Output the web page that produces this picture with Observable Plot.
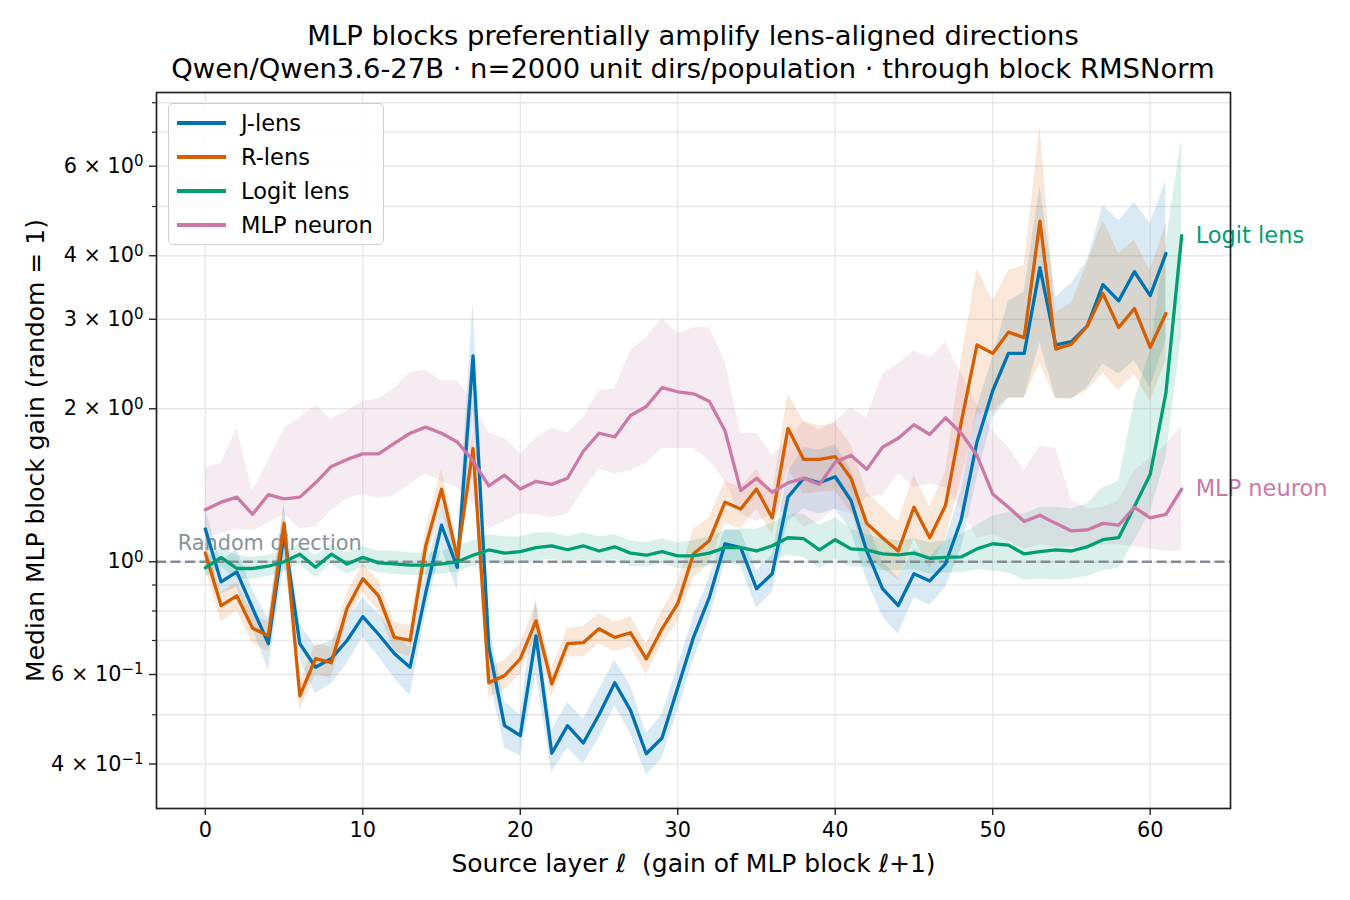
<!DOCTYPE html>
<html>
<head>
<meta charset="utf-8">
<script src="https://cdn.jsdelivr.net/npm/d3@7"></script>
<script src="https://cdn.jsdelivr.net/npm/@observablehq/plot@0.6"></script>
<style>
  html, body { margin: 0; padding: 0; background: #fff; }
  #wrap { position: relative; width: 1350px; height: 900px; font-family: "DejaVu Sans", sans-serif; color: #000; }
  #title { position: absolute; left: 156px; width: 1074px; top: 19px; text-align: center; font-size: 27.4px; line-height: 33px; white-space: nowrap; }
  #legend { position: absolute; left: 168px; top: 103px; width: 216px; height: 142px; border: 1.5px solid #cfcfcf; border-radius: 5px; background: rgba(255,255,255,0.8); box-sizing: border-box; }
  .li { position: absolute; left: 0; height: 34px; display: flex; align-items: center; font-size: 22.5px; }
  .li .sw { position: absolute; left: 8px; width: 49px; height: 3.3px; }
  .li .lab { position: absolute; left: 72px; white-space: nowrap; }
  svg { position: absolute; left: 0; top: 0; }
</style>
</head>
<body>
<div id="wrap">
  <div id="chart"></div>
  <div id="title">MLP blocks preferentially amplify lens-aligned directions<br>Qwen/Qwen3.6-27B · n=2000 unit dirs/population · through block RMSNorm</div>
  <div id="legend"></div>
</div>
<script>
// ---- data (median gain per source layer, with band lo/hi) ----
const seriesNames = ["J-lens", "R-lens", "Logit lens", "MLP neuron"];
const seriesColors = ["#0072B2", "#D55E00", "#009E73", "#CC79A7"];

const jLens = [1.16,0.913,0.955,0.81,0.69,1.135,0.69,0.62,0.645,0.70, 0.78,0.72,0.66,0.62,0.87,1.18,0.975,2.54,0.68,0.476, 0.455,0.715,0.42,0.476,0.44,0.50,0.578,0.51,0.419,0.45, 0.565,0.71,0.85,1.085,1.066,0.885,0.947,1.34,1.46,1.43, 1.47,1.32,1.05,0.885,0.82,0.947,0.917,0.99,1.21,1.72, 2.17,2.57,2.57,3.79,2.67,2.71,2.91,3.51,3.26,3.72, 3.34,4.04];
const jLensLo = [1.0,0.865,0.89,0.74,0.61,0.99,0.64,0.55,0.575,0.63, 0.71,0.65,0.59,0.545,0.79,1.06,0.88,2.0,0.60,0.43, 0.415,0.60,0.385,0.43,0.40,0.45,0.52,0.46,0.38,0.41, 0.51,0.64,0.77,1.0,0.98,0.81,0.87,1.20,1.27,1.24, 1.27,1.15,0.92,0.78,0.72,0.85,0.82,0.89,1.06,1.46, 1.92,2.10,2.10,2.70,2.10,2.09,2.20,2.45,2.34,2.49, 2.20,2.72];
const jLensHi = [1.27,1.0,1.06,0.88,0.77,1.30,0.755,0.68,0.70,0.77, 0.85,0.79,0.72,0.68,0.95,1.29,1.07,3.25,0.76,0.53, 0.50,0.85,0.465,0.53,0.49,0.56,0.64,0.57,0.46,0.50, 0.62,0.78,0.93,1.16,1.15,0.96,1.03,1.50,1.68,1.66, 1.70,1.52,1.20,1.0,0.93,1.06,1.02,1.10,1.38,2.01, 2.52,3.26,3.39,5.5,3.31,3.53,3.91,5.02,4.69,5.09, 4.63,5.62];

const rLens = [1.04,0.82,0.857,0.74,0.715,1.19,0.545,0.645,0.633,0.81, 0.926,0.857,0.71,0.70,1.075,1.39,1.02,1.67,0.578,0.597, 0.644,0.765,0.575,0.69,0.693,0.738,0.71,0.725,0.644,0.738, 0.827,1.037,1.10,1.31,1.27,1.39,1.22,1.83,1.59,1.59, 1.61,1.46,1.19,1.115,1.05,1.28,1.115,1.29,1.88,2.67, 2.57,2.83,2.76,4.68,2.62,2.68,2.91,3.37,2.89,3.15, 2.64,3.08];
const rLensLo = [0.98,0.76,0.80,0.69,0.665,1.10,0.51,0.60,0.59,0.76, 0.87,0.80,0.665,0.65,1.0,1.28,0.96,1.55,0.54,0.56, 0.60,0.71,0.54,0.65,0.65,0.69,0.665,0.68,0.60,0.69, 0.76,0.93,0.99,1.19,1.16,1.27,1.13,1.53,1.36,1.37, 1.38,1.25,1.03,0.97,0.92,1.11,0.97,1.11,1.45,1.95, 1.98,2.10,2.10,2.45,2.09,2.09,2.17,2.35,2.17,2.34, 2.07,2.49];
const rLensHi = [1.09,0.87,0.91,0.79,0.76,1.30,0.58,0.69,0.68,0.87, 0.99,0.92,0.76,0.75,1.16,1.52,1.09,1.80,0.62,0.64, 0.69,0.83,0.615,0.74,0.745,0.79,0.76,0.78,0.69,0.80, 0.91,1.16,1.22,1.44,1.40,1.52,1.35,2.14,1.89,1.85, 1.87,1.70,1.37,1.28,1.20,1.48,1.28,1.50,2.50,3.77, 3.26,3.74,3.83,7.2,3.09,3.23,3.86,4.69,4.04,4.29, 3.74,4.63];

const logit = [0.973,1.02,0.97,0.97,0.98,1.0,1.035,0.975,1.035,0.99, 1.02,0.995,0.99,0.985,0.985,0.99,1.0,1.03,1.055,1.04, 1.047,1.066,1.075,1.056,1.075,1.05,1.07,1.04,1.03,1.047, 1.027,1.027,1.04,1.066,1.066,1.05,1.075,1.115,1.11,1.055, 1.105,1.06,1.055,1.036,1.032,1.04,1.016,1.02,1.022,1.06, 1.085,1.078,1.036,1.047,1.055,1.05,1.07,1.105,1.115,1.285, 1.485,2.15,4.38];
const logitLo = [0.93,0.975,0.925,0.925,0.935,0.955,0.99,0.93,0.99,0.945, 0.975,0.95,0.945,0.94,0.94,0.945,0.955,0.98,1.0,0.985, 0.99,1.005,1.01,0.995,1.01,0.99,1.01,0.98,0.975,0.99, 0.97,0.97,0.98,1.0,1.0,0.985,1.005,1.03,1.02,0.97, 1.01,0.975,0.975,0.96,0.96,0.965,0.945,0.95,0.95,0.965, 0.96,0.95,0.92,0.925,0.92,0.925,0.935,0.96,0.97,1.10, 1.25,1.60,2.80];
const logitHi = [1.02,1.06,1.03,1.02,1.03,1.05,1.08,1.03,1.08,1.04, 1.07,1.05,1.05,1.04,1.04,1.05,1.07,1.10,1.13,1.12, 1.12,1.14,1.14,1.12,1.14,1.12,1.13,1.10,1.09,1.11, 1.09,1.10,1.12,1.15,1.16,1.16,1.19,1.24,1.24,1.18, 1.22,1.16,1.13,1.11,1.10,1.11,1.09,1.10,1.13,1.18, 1.23,1.25,1.24,1.28,1.28,1.27,1.30,1.40,1.44,2.07, 2.60,4.23,6.82];

const mlp = [1.266,1.31,1.34,1.24,1.355,1.33,1.34,1.43,1.54,1.59, 1.63,1.63,1.71,1.79,1.84,1.79,1.72,1.58,1.41,1.48, 1.39,1.44,1.42,1.46,1.65,1.79,1.76,1.94,2.02,2.20, 2.16,2.14,2.07,1.81,1.38,1.46,1.37,1.43,1.46,1.42, 1.57,1.62,1.52,1.68,1.75,1.86,1.78,1.92,1.79,1.62, 1.36,1.28,1.20,1.235,1.19,1.15,1.155,1.19,1.18,1.28, 1.22,1.24,1.39];
const mlpLo = [1.115,1.135,1.16,1.15,1.19,1.24,1.16,1.17,1.26,1.33, 1.36,1.33,1.35,1.42,1.49,1.44,1.40,1.30,1.16,1.20, 1.24,1.24,1.22,1.24,1.38,1.52,1.49,1.51,1.56,1.67, 1.67,1.67,1.58,1.44,1.24,1.20,1.24,1.26,1.17,1.20, 1.27,1.24,1.34,1.35,1.49,1.40,1.42,1.40,1.28,1.115, 1.13,1.10,1.06,1.08,1.07,1.07,1.06,1.08,1.08,1.07, 1.06,1.05,1.05];
const mlpHi = [1.53,1.56,1.83,1.38,1.58,1.83,1.92,2.03,1.91,1.98, 2.07,2.09,2.19,2.36,2.38,2.27,2.27,2.07,1.79,1.75, 1.63,1.75,1.83,1.79,1.92,2.17,2.19,2.60,2.76,3.01, 2.81,2.89,2.89,2.49,1.79,1.79,1.62,1.73,1.89,1.81, 1.89,2.01,1.92,2.34,2.45,2.60,2.52,2.70,2.34,2.04, 1.81,1.68,1.51,1.69,1.67,1.32,1.27,1.28,1.32,1.51, 1.60,1.70,1.85];

const xTicks = [0, 10, 20, 30, 40, 50, 60];
const yMajorTicks = [0.4, 0.6, 1, 2, 3, 4, 6];
const yMajorLabels = ["4 × 10^−1", "6 × 10^−1", "10^0", "2 × 10^0", "3 × 10^0", "4 × 10^0", "6 × 10^0"];
const yMinorTicks = [0.5, 0.7, 0.8, 0.9, 5, 7, 8];
const baseline = [1];
const baselineLabel = "Random direction";
const endLabels = ["Logit lens", "MLP neuron"];
const xLabel = "Source layer ℓ  (gain of MLP block ℓ+1)";
const yLabel = "Median MLP block gain (random = 1)";

// ---- build table ----
const allSeries = [
  [jLens, jLensLo, jLensHi],
  [rLens, rLensLo, rLensHi],
  [logit, logitLo, logitHi],
  [mlp, mlpLo, mlpHi]
];
const rows = [];
allSeries.forEach(([v, lo, hi], s) => {
  v.forEach((val, i) => rows.push({series: seriesNames[s], layer: i, value: val, lo: lo[i], hi: hi[i]}));
});
const endRows = endLabels.map(name => {
  const r = rows.filter(d => d.series === name);
  return r[r.length - 1];
});
const gridY = [...yMajorTicks, ...yMinorTicks];
const labelOf = new Map(yMajorTicks.map((t, i) => [t, yMajorLabels[i]]));
const colorOf = new Map(seriesNames.map((n, i) => [n, seriesColors[i]]));

const chart = Plot.plot({
  width: 1350,
  height: 900,
  marginLeft: 156,
  marginRight: 120,
  marginTop: 92,
  marginBottom: 92,
  style: {fontFamily: "DejaVu Sans", fontSize: "20.8px", color: "#000", background: "transparent"},
  x: {domain: [-3.1, 65.1]},
  y: {type: "log", domain: [0.327, 8.38]},
  color: {domain: seriesNames, range: seriesColors},
  marks: [
    Plot.ruleX(xTicks, {stroke: "#e8e8e8", strokeWidth: 1.3}),
    Plot.ruleY(gridY, {stroke: "#e8e8e8", strokeWidth: 1.3}),
    Plot.areaY(rows, {x: "layer", y1: "lo", y2: "hi", z: "series", fill: "series", fillOpacity: 0.15, curve: "linear"}),
    Plot.ruleY(baseline, {stroke: "#858c94", strokeWidth: 2.6, strokeDasharray: "10,4.5"}),
    Plot.text([baselineLabel], {x: -1.75, y: 1, text: d => d, dy: -18, textAnchor: "start", fill: "#8a9199", fontSize: 20.8}),
    Plot.lineY(rows, {x: "layer", y: "value", z: "series", stroke: "series", strokeWidth: 3.3, curve: "linear"}),
    Plot.text(endRows, {x: "layer", y: "value", text: "series", dx: 14, textAnchor: "start", fill: d => colorOf.get(d.series), fontSize: 22.5}),
    Plot.frame({stroke: "#222", strokeWidth: 1.7}),
    Plot.axisX({ticks: xTicks, tickSize: 7, tickPadding: 7, tickFormat: d => String(d), label: null, fontSize: 20.8, stroke: "#222", strokeWidth: 1.4}),
    Plot.axisY({ticks: yMajorTicks, tickSize: 7, tickPadding: 6, tickFormat: d => labelOf.get(d), label: null, fontSize: 20.8, stroke: "#222", strokeWidth: 1.4, ariaLabel: "y-major"}),
    Plot.axisY({ticks: yMinorTicks, tickSize: 4, tickFormat: () => "", label: null, stroke: "#222", strokeWidth: 1.2}),
    Plot.text([xLabel], {frameAnchor: "bottom", dy: 55, text: d => d, fontSize: 25, textAnchor: "middle", lineAnchor: "middle"}),
    Plot.text([yLabel], {frameAnchor: "left", dx: -121, rotate: -90, text: d => d, fontSize: 25, textAnchor: "middle", lineAnchor: "middle"})
  ]
});
document.getElementById("chart").appendChild(chart);

// render "10^e" tick labels with a raised exponent (real text in tspans)
chart.querySelectorAll("text").forEach(t => {
  const s = t.textContent;
  const k = s.indexOf("^");
  if (k < 0) return;
  const base = s.slice(0, k), exp = s.slice(k + 1);
  t.textContent = "";
  const ns = "http://www.w3.org/2000/svg";
  const b = document.createElementNS(ns, "tspan");
  b.textContent = base;
  const e = document.createElementNS(ns, "tspan");
  e.textContent = exp;
  e.setAttribute("dy", "-0.45em");
  e.setAttribute("font-size", "72%");
  t.appendChild(b);
  t.appendChild(e);
});

// legend
const leg = document.getElementById("legend");
seriesNames.forEach((n, i) => {
  const item = document.createElement("div");
  item.className = "li";
  item.style.top = (2 + i * 34) + "px";
  item.style.width = "100%";
  item.innerHTML = `<span class="sw" style="background:${seriesColors[i]}"></span><span class="lab">${n}</span>`;
  leg.appendChild(item);
});
</script>
</body>
</html>
